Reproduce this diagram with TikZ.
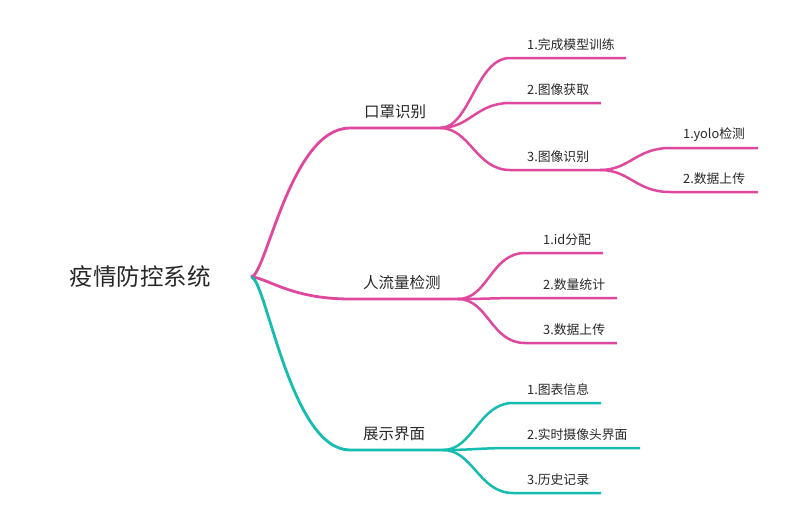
\documentclass[tikz,border=0pt]{standalone}
\usepackage{fontspec}
\setmainfont{Noto Sans CJK SC}
\usetikzlibrary{positioning}
\definecolor{Rose}{HTML}{E0489E}
\definecolor{Jade}{HTML}{14BDB0}
\definecolor{Ink}{HTML}{282828}
\tikzset{
 rootlabel/.style={font=\fontsize{23.5}{28}\selectfont, text=Ink, inner sep=0pt},
 mainlabel/.style={font=\fontsize{15.5}{18}\selectfont, text=Ink, inner sep=0pt, anchor=west},
 leaflabel/.style={font=\fontsize{12.8}{15}\selectfont, text=Ink, inner sep=0pt, anchor=west},
 mainline/.style={line width=2.8pt},
 leafline/.style={line width=2.5pt},
 rootcurve/.style={out=0, in=180, out distance=15pt, in distance=60pt},
 branchcurve/.style={out=0, in=180, out distance=30pt, in distance=34pt}
}

\begin{document}
\begin{tikzpicture}[x=1pt, y=-1pt]
\useasboundingbox[fill=white] (0,0) rectangle (786,525);
% root
\node[rootlabel] (root) at (140,277) {疫情防控系统};
\coordinate (hub) at (251,277);

% main branches
\coordinate (mask-s) at (350,128); \coordinate (mask-e) at (440,128);
\coordinate (flow-s) at (350,299); \coordinate (flow-e) at (458,299);
\coordinate (show-s) at (350,450); \coordinate (show-e) at (443,450);
\node[mainlabel] (mask) at (364,112) {口罩识别};
\node[mainlabel] (flow) at (363,283) {人流量检测};
\node[mainlabel] (show) at (363,434) {展示界面};
\draw[mainline,Rose] (hub) to[rootcurve] (mask-s) -- (mask-e);
\draw[mainline,Rose] (hub) to[rootcurve] (flow-s) -- (flow-e);
\draw[mainline,Jade] (hub) to[rootcurve] (show-s) -- (show-e);

% leaves of mask
\foreach \n/\y/\xe/\txt in {m1/58/626/1.完成模型训练, m2/103/601/2.图像获取, m3/170/600/3.图像识别}{
 \coordinate (\n-s) at (510,\y); \coordinate (\n-e) at (\xe,\y);
 \node[leaflabel] (\n) at (527,\y-13) {\txt};
 \draw[leafline,Rose] (mask-e) to[branchcurve] (\n-s) -- (\n-e);
}
\foreach \n/\y/\txt in {m31/148/1.yolo检测, m32/192/2.数据上传}{
 \coordinate (\n-s) at (670,\y); \coordinate (\n-e) at (758,\y);
 \node[leaflabel] (\n) at (683,\y-13) {\txt};
 \draw[leafline,Rose] (m3-e) to[branchcurve] (\n-s) -- (\n-e);
}

% leaves of flow
\foreach \n/\y/\xe/\txt in {f1/253/603/1.id分配, f2/298/617/2.数量统计, f3/343/617/3.数据上传}{
 \coordinate (\n-s) at (525,\y); \coordinate (\n-e) at (\xe,\y);
 \node[leaflabel] (\n) at (543,\y-13) {\txt};
 \draw[leafline,Rose] (flow-e) to[branchcurve] (\n-s) -- (\n-e);
}

% leaves of show
\foreach \n/\y/\xe/\txt in {s1/403/601/1.图表信息, s2/448/640/2.实时摄像头界面, s3/493/601/3.历史记录}{
 \coordinate (\n-s) at (513,\y); \coordinate (\n-e) at (\xe,\y);
 \node[leaflabel] (\n) at (527,\y-13) {\txt};
 \draw[leafline,Jade] (show-e) to[branchcurve] (\n-s) -- (\n-e);
}
\end{tikzpicture}
\end{document}
